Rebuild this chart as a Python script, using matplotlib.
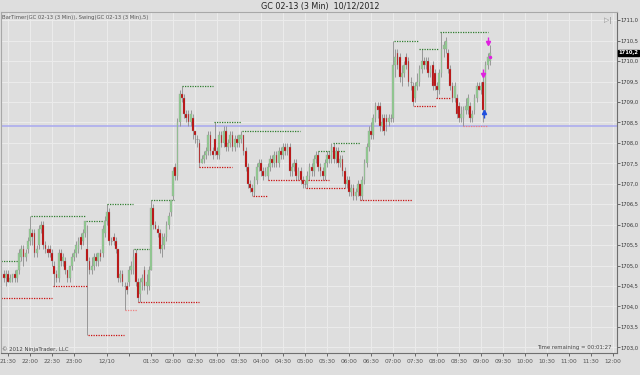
import matplotlib
matplotlib.use("Agg")
import matplotlib.pyplot as plt
import numpy as np

# 3-min bars, index 0 = 21:24 ... 37 = 23:15, 38 = 00:03 (new session)
opens = [
    1704.8, 1704.7, 1704.8, 1704.6, 1704.7, 1704.8, 1704.7, 1704.9, 1705.2, 1705.4,
    1705.2, 1705.4, 1705.6, 1705.8, 1705.8, 1705.3, 1705.5, 1705.9, 1706.0, 1705.5,
    1705.4, 1705.4, 1705.3, 1705.0, 1704.8, 1704.7, 1705.3, 1705.1, 1705.1, 1704.9,
    1704.7, 1705.0, 1705.2, 1705.3, 1705.4, 1705.7, 1705.6, 1705.8, 1705.4, 1705.1,
    1704.9, 1705.0, 1705.2, 1705.1, 1705.3, 1705.3, 1705.8, 1706.1, 1706.3, 1705.6,
    1705.7, 1705.6, 1705.4, 1704.7, 1704.8, 1704.5, 1704.5, 1704.6, 1704.9, 1704.9,
    1705.3, 1704.6, 1704.3, 1704.6, 1704.9, 1704.5, 1704.5, 1704.9, 1706.4, 1706.0,
    1705.9, 1705.8, 1705.4, 1705.5, 1705.7, 1706.0, 1706.3, 1706.7, 1707.4, 1707.2,
    1708.5, 1709.2, 1709.1, 1708.7, 1708.7, 1708.5, 1708.6, 1708.3, 1708.1, 1708.0,
    1707.5, 1707.6, 1707.7, 1707.8, 1708.2, 1707.8, 1708.1, 1707.8, 1707.7, 1708.2,
    1708.0, 1708.3, 1707.9, 1708.0, 1708.2, 1707.9, 1708.1, 1708.0, 1708.1, 1708.2,
    1707.8, 1707.4, 1707.0, 1706.9, 1706.8, 1707.1, 1707.4, 1707.5, 1707.3, 1707.2,
    1707.2, 1707.4, 1707.6, 1707.5, 1707.7, 1707.5, 1707.8, 1707.7, 1707.9, 1707.8,
    1707.9, 1707.3, 1707.4, 1707.5, 1707.2, 1707.3, 1707.1, 1707.0, 1707.0, 1707.2,
    1707.4, 1707.3, 1707.6, 1707.7, 1707.4, 1707.3, 1707.2, 1707.5, 1707.7, 1707.6,
    1707.9, 1707.6, 1707.8, 1707.5, 1707.6, 1707.3, 1707.0, 1707.1, 1706.8, 1706.9,
    1706.7, 1706.8, 1707.0, 1706.7, 1707.1, 1707.5, 1707.9, 1708.3, 1708.2, 1708.6,
    1708.9, 1708.9, 1708.4, 1708.6, 1708.6, 1708.5, 1708.6, 1708.6, 1709.9, 1710.2,
    1710.1, 1709.6, 1709.7, 1710.1, 1710.0, 1709.5, 1709.4, 1709.1, 1709.4, 1709.5,
    1709.8, 1710.0, 1709.9, 1710.0, 1709.7, 1709.9, 1709.7, 1709.4, 1709.3, 1709.7,
    1710.3, 1710.3, 1710.2, 1709.8, 1709.4, 1709.1, 1709.1, 1708.9, 1708.6, 1708.6,
    1708.8, 1708.8, 1708.9, 1708.6, 1708.8, 1709.1, 1709.4, 1709.3, 1709.5, 1708.8,
    1709.9, 1710.0,
]
highs = [
    1704.9, 1704.9, 1704.9, 1704.8, 1704.8, 1704.9, 1704.9, 1705.4, 1705.5, 1705.5,
    1705.4, 1705.7, 1706.2, 1705.9, 1705.9, 1705.5, 1706.0, 1706.1, 1706.1, 1705.6,
    1705.5, 1705.5, 1705.4, 1705.1, 1704.9, 1705.4, 1705.4, 1705.3, 1705.2, 1704.9,
    1705.0, 1705.3, 1705.4, 1705.6, 1705.7, 1705.8, 1705.9, 1706.1, 1706.0, 1705.2,
    1705.2, 1705.3, 1705.3, 1705.3, 1705.4, 1706.0, 1706.2, 1706.5, 1706.4, 1705.7,
    1705.8, 1705.7, 1705.4, 1704.9, 1704.9, 1704.6, 1704.6, 1705.0, 1705.1, 1705.4,
    1705.4, 1704.7, 1704.7, 1704.8, 1705.0, 1704.8, 1705.0, 1706.6, 1706.5, 1706.1,
    1706.0, 1705.9, 1705.8, 1705.8, 1706.1, 1706.3, 1706.6, 1707.4, 1707.5, 1708.6,
    1709.3, 1709.4, 1709.2, 1708.8, 1708.8, 1708.8, 1708.7, 1708.3, 1708.2, 1708.1,
    1707.7, 1707.8, 1707.9, 1708.3, 1708.3, 1707.9, 1708.5, 1707.9, 1708.3, 1708.3,
    1708.4, 1708.4, 1708.1, 1708.3, 1708.3, 1708.2, 1708.2, 1708.2, 1708.3, 1708.2,
    1707.9, 1707.5, 1707.1, 1707.0, 1707.2, 1707.5, 1707.6, 1707.6, 1707.4, 1707.4,
    1707.5, 1707.7, 1707.7, 1707.8, 1707.8, 1707.9, 1707.9, 1708.0, 1708.0, 1708.0,
    1708.0, 1707.5, 1707.6, 1707.6, 1707.4, 1707.4, 1707.2, 1707.1, 1707.3, 1707.5,
    1707.5, 1707.7, 1707.8, 1707.8, 1707.5, 1707.4, 1707.6, 1707.8, 1707.8, 1708.0,
    1708.0, 1707.9, 1707.9, 1707.7, 1707.7, 1707.4, 1707.2, 1707.2, 1707.0, 1707.0,
    1706.9, 1707.1, 1707.0, 1707.2, 1707.6, 1708.0, 1708.4, 1708.5, 1708.7, 1709.0,
    1709.0, 1709.0, 1708.7, 1708.7, 1708.7, 1708.7, 1708.7, 1710.5, 1710.3, 1710.3,
    1710.2, 1709.9, 1710.0, 1710.2, 1710.1, 1709.6, 1709.5, 1709.5, 1709.7, 1709.9,
    1710.3, 1710.1, 1710.1, 1710.1, 1709.9, 1710.0, 1709.8, 1709.5, 1709.8, 1710.7,
    1710.5, 1710.6, 1710.3, 1709.9, 1709.5, 1709.5, 1709.2, 1709.0, 1708.9, 1708.9,
    1709.1, 1709.2, 1709.0, 1708.8, 1709.2, 1709.5, 1709.5, 1709.5, 1709.6, 1710.0,
    1710.2, 1710.4,
]
lows = [
    1704.6, 1704.5, 1704.6, 1704.6, 1704.6, 1704.6, 1704.6, 1704.8, 1705.1, 1705.0,
    1705.1, 1705.3, 1705.5, 1705.5, 1705.2, 1705.2, 1705.4, 1705.8, 1705.4, 1705.3,
    1705.2, 1705.2, 1705.0, 1704.5, 1704.6, 1704.6, 1705.0, 1705.0, 1704.8, 1704.6,
    1704.6, 1704.9, 1705.1, 1705.2, 1705.3, 1705.4, 1705.5, 1705.7, 1703.3, 1704.8,
    1704.8, 1704.9, 1705.0, 1705.0, 1705.1, 1705.2, 1705.7, 1706.0, 1705.5, 1705.5,
    1705.5, 1705.3, 1704.6, 1704.6, 1704.5, 1703.9, 1704.3, 1704.5, 1704.8, 1704.8,
    1704.5, 1704.1, 1704.1, 1704.4, 1704.4, 1704.3, 1704.4, 1704.9, 1705.9, 1705.9,
    1705.7, 1705.3, 1705.2, 1705.4, 1705.6, 1705.9, 1706.2, 1706.6, 1707.1, 1707.1,
    1708.4, 1709.0, 1708.6, 1708.5, 1708.4, 1708.4, 1708.1, 1708.0, 1707.9, 1707.4,
    1707.5, 1707.5, 1707.6, 1707.7, 1707.7, 1707.6, 1707.7, 1707.6, 1707.6, 1707.9,
    1707.9, 1707.8, 1707.8, 1707.9, 1707.8, 1707.8, 1707.9, 1707.9, 1708.0, 1707.7,
    1707.3, 1706.9, 1706.8, 1706.7, 1706.7, 1707.0, 1707.3, 1707.2, 1707.1, 1707.2,
    1707.1, 1707.3, 1707.4, 1707.4, 1707.4, 1707.4, 1707.6, 1707.6, 1707.7, 1707.7,
    1707.2, 1707.2, 1707.3, 1707.1, 1707.1, 1707.0, 1706.9, 1706.9, 1706.9, 1707.1,
    1707.2, 1707.2, 1707.5, 1707.3, 1707.2, 1707.1, 1707.1, 1707.4, 1707.5, 1707.5,
    1707.5, 1707.5, 1707.4, 1707.4, 1707.2, 1706.9, 1706.9, 1706.7, 1706.7, 1706.6,
    1706.6, 1706.7, 1706.6, 1706.6, 1707.0, 1707.4, 1707.8, 1708.1, 1708.1, 1708.5,
    1708.6, 1708.3, 1708.3, 1708.2, 1708.3, 1708.4, 1708.5, 1708.5, 1709.6, 1709.8,
    1709.5, 1709.4, 1709.6, 1709.8, 1709.4, 1709.3, 1708.9, 1709.0, 1709.3, 1709.4,
    1709.7, 1709.8, 1709.8, 1709.6, 1709.6, 1709.3, 1709.3, 1709.1, 1709.2, 1709.6,
    1710.1, 1710.2, 1709.7, 1709.3, 1709.0, 1709.0, 1708.6, 1708.5, 1708.5, 1708.4,
    1708.7, 1708.7, 1708.5, 1708.5, 1708.7, 1709.0, 1709.3, 1709.2, 1708.5, 1708.7,
    1709.8, 1709.9,
]
closes = [
    1704.7, 1704.8, 1704.6, 1704.7, 1704.8, 1704.7, 1704.9, 1705.3, 1705.4, 1705.2,
    1705.3, 1705.6, 1705.9, 1705.7, 1705.3, 1705.4, 1705.9, 1706.0, 1705.5, 1705.4,
    1705.3, 1705.3, 1705.1, 1704.8, 1704.7, 1705.3, 1705.1, 1705.2, 1704.9, 1704.7,
    1705.0, 1705.2, 1705.3, 1705.5, 1705.6, 1705.5, 1705.8, 1706.1, 1705.1, 1704.9,
    1705.0, 1705.2, 1705.1, 1705.3, 1705.2, 1705.9, 1706.1, 1706.3, 1705.6, 1705.6,
    1705.6, 1705.4, 1704.7, 1704.8, 1704.6, 1704.5, 1704.4, 1704.9, 1705.0, 1705.2,
    1704.6, 1704.2, 1704.6, 1704.7, 1704.5, 1704.6, 1704.9, 1706.4, 1706.0, 1705.9,
    1705.8, 1705.4, 1705.5, 1705.7, 1706.0, 1706.2, 1706.6, 1707.3, 1707.2, 1708.5,
    1709.2, 1709.1, 1708.7, 1708.6, 1708.5, 1708.7, 1708.3, 1708.2, 1708.1, 1707.5,
    1707.6, 1707.7, 1707.8, 1708.2, 1707.8, 1707.7, 1707.8, 1707.7, 1708.2, 1708.0,
    1708.3, 1707.9, 1708.0, 1708.2, 1707.9, 1708.1, 1708.0, 1708.2, 1708.2, 1707.8,
    1707.4, 1707.0, 1706.9, 1706.8, 1707.1, 1707.4, 1707.5, 1707.3, 1707.2, 1707.3,
    1707.4, 1707.6, 1707.5, 1707.7, 1707.5, 1707.8, 1707.7, 1707.9, 1707.8, 1707.9,
    1707.3, 1707.4, 1707.5, 1707.2, 1707.3, 1707.1, 1707.0, 1707.0, 1707.2, 1707.4,
    1707.3, 1707.6, 1707.7, 1707.4, 1707.3, 1707.2, 1707.5, 1707.7, 1707.6, 1707.9,
    1707.6, 1707.8, 1707.5, 1707.6, 1707.3, 1707.0, 1707.1, 1706.8, 1706.9, 1706.7,
    1706.8, 1707.0, 1706.7, 1707.1, 1707.5, 1707.9, 1708.3, 1708.2, 1708.6, 1708.9,
    1708.8, 1708.4, 1708.5, 1708.3, 1708.5, 1708.6, 1708.6, 1709.9, 1710.1, 1709.9,
    1709.6, 1709.7, 1709.9, 1709.9, 1709.5, 1709.5, 1709.0, 1709.4, 1709.5, 1709.8,
    1710.0, 1709.9, 1710.0, 1709.7, 1709.8, 1709.4, 1709.4, 1709.3, 1709.7, 1710.3,
    1710.4, 1710.5, 1709.8, 1709.4, 1709.1, 1709.4, 1708.7, 1708.6, 1708.7, 1708.8,
    1708.9, 1709.1, 1708.6, 1708.7, 1709.1, 1709.4, 1709.3, 1709.4, 1708.8, 1709.9,
    1710.1, 1710.2,
]

# Swing indicator: (start bar, end bar, price)
swing_highs = [(-1.2, 7.5, 1705.1), (12.5, 37, 1706.2), (37.5, 46, 1706.1),
               (47, 59, 1706.5), (59.3, 67, 1705.4), (67, 77.5, 1706.6),
               (81, 95, 1709.4), (95.6, 108, 1708.5), (108.4, 134.7, 1708.3),
               (143, 155, 1707.8), (149.7, 162, 1708.0), (177.5, 189, 1710.5),
               (189, 198, 1710.3), (198.4, 220, 1710.7)]
swing_lows = [(-1.2, 22, 1704.2), (22.5, 38, 1704.5), (38.4, 54.7, 1703.3),
              (55, 60.6, 1703.9), (61, 88.8, 1704.1), (88.8, 104, 1707.4),
              (113.4, 120, 1706.7), (120, 148, 1707.1), (137.5, 155, 1706.9),
              (162, 185.6, 1706.6), (186.5, 196.5, 1708.9), (196.5, 203, 1709.1),
              (208.8, 220, 1708.4)]
faint_lows = [55, 208.8]

# signal arrows at the right edge
sig_bar = [220, 218, 218.5, 221]
sig_price = [1710.45, 1709.65, 1708.75, 1710.1]
sig_dir = ["down", "down", "up", "dot"]

ref_price = 1708.4
last_price = 1710.2

tick_bars = [2, 12, 22, 32, 47, 57] + list(range(67, 278, 10))
tick_labels = ["21:30", "22:00", "22:30", "23:00", "12/10", "",
               "01:30", "02:00", "02:30", "03:00", "03:30", "04:00", "04:30",
               "05:00", "05:30", "06:00", "06:30", "07:00", "07:30", "08:00",
               "08:30", "09:00", "09:30", "10:00", "10:30", "11:00", "11:30",
               "12:00"]

bg = "#dedede"
fig = plt.figure(figsize=(6.4, 3.75), dpi=100, facecolor=bg)
ax = fig.add_axes([1 / 640, 22 / 375, 616 / 640, 341 / 375])
ax.set_facecolor(bg)
ax.set_xlim(-1.2, 278.8)
ax.set_ylim(1702.86, 1711.2)

yt = np.arange(1703.0, 1711.01, 0.5)
ax.set_yticks(yt)
ax.set_yticklabels([("%.1f" % v).replace(".", ",") for v in yt])
ax.yaxis.tick_right()
ax.set_xticks(tick_bars)
ax.set_xticklabels(tick_labels)
ax.tick_params(axis="x", length=2.5, width=0.6, colors="#555555",
               labelsize=4.2, pad=1.5)
ax.tick_params(axis="y", length=1.8, width=0.6, colors="#555555",
               labelsize=3.7, pad=0.8, labelcolor="#333333")
ax.grid(True, color="#ececec", lw=0.7, zorder=0)
ax.set_axisbelow(True)
for s in ["top", "left"]:
    ax.spines[s].set_color("#a8a8a8")
    ax.spines[s].set_linewidth(0.8)
for s in ["right", "bottom"]:
    ax.spines[s].set_color("#707070")
    ax.spines[s].set_linewidth(0.8)

ax.axhline(ref_price, color="#a8a8f0", lw=1.1, zorder=1)

o = np.array(opens)
h = np.array(highs)
l = np.array(lows)
c = np.array(closes)
x = np.arange(len(o))
up = c > o + 0.01
dn = c < o - 0.01
flat = ~(up | dn)

ax.vlines(x, l, h, color="#8c8c8c", lw=0.6, zorder=2)
ax.bar(x[up], c[up] - o[up], bottom=o[up], width=0.8, color="#8fcf8f",
       edgecolor="#9a9a9a", linewidth=0.25, zorder=3)
ax.bar(x[dn], c[dn] - o[dn], bottom=o[dn], width=0.8, color="#c00000",
       edgecolor="#9a9a9a", linewidth=0.25, zorder=3)
ax.hlines(o[flat], x[flat] - 0.4, x[flat] + 0.4, color="#8c8c8c", lw=0.6, zorder=3)

for a, b, p in swing_highs:
    ax.hlines(p, a, b, color="#2e7d2e", lw=0.9, linestyle=(0, (1, 1)), zorder=2)
for a, b, p in swing_lows:
    col = "#f08080" if a in faint_lows else "#cc1010"
    ax.hlines(p, a, b, color=col, lw=0.9, linestyle=(0, (1, 1)), zorder=2)

for xb, p, d in zip(sig_bar, sig_price, sig_dir):
    if d == "down":
        ax.plot(xb, p, marker="v", color="#e020e0", ms=3, zorder=5)
        ax.vlines(xb, p, p + 0.15, color="#e020e0", lw=1, zorder=5)
    elif d == "up":
        ax.plot(xb, p, marker="^", color="#2050e0", ms=3, zorder=5)
        ax.vlines(xb, p - 0.15, p, color="#2050e0", lw=1, zorder=5)
    else:
        ax.plot(xb, p, marker="o", color="#e020e0", ms=1.5, zorder=5)

ax.text(1.003, last_price, ("%.1f" % last_price).replace(".", ","),
        transform=ax.get_yaxis_transform(), fontsize=3.7, color="white",
        fontweight="bold", va="center", ha="left",
        bbox=dict(boxstyle="square,pad=0.12", fc="black", ec="black"))

fig.text(0.5, 1 - 6 / 375, "GC 02-13 (3 Min)  10/12/2012", ha="center",
         va="center", fontsize=5.8, color="#222222")
fig.text(2 / 640, 1 - 17 / 375, "BarTimer(GC 02-13 (3 Min)), Swing(GC 02-13 (3 Min),5)",
         fontsize=3.8, color="#555555", va="center")
fig.text(2 / 640, 1 - 349 / 375, "\u00a9 2012 NinjaTrader, LLC", fontsize=3.9,
         color="#444444", va="center")
fig.text(611 / 640, 1 - 348 / 375, "Time remaining = 00:01:27", fontsize=3.9,
         color="#444444", va="center", ha="right")
fig.text(608 / 640, 1 - 20 / 375, "\u25b7|", fontsize=5, color="#888888",
         va="center", ha="center")

fig.savefig("out.png", dpi=100, facecolor=bg)
